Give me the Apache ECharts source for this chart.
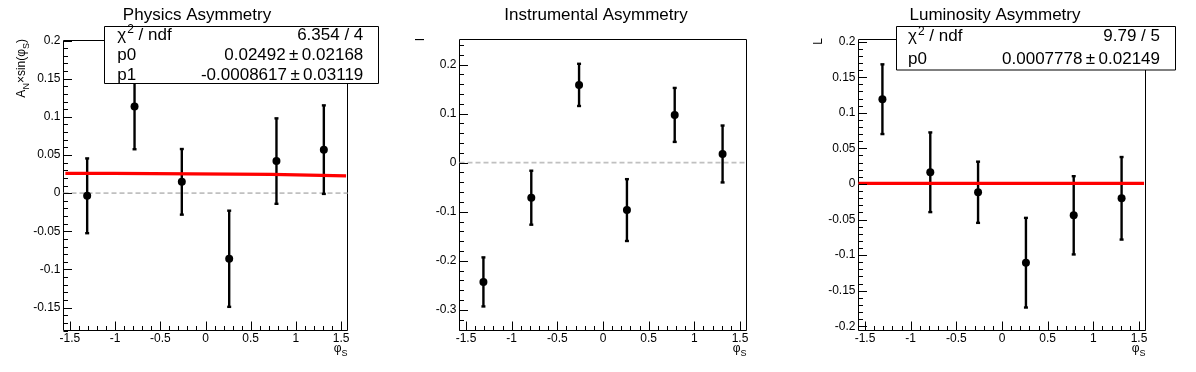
<!DOCTYPE html>
<html><head><meta charset="utf-8">
<script src="https://cdn.jsdelivr.net/npm/echarts@6/dist/echarts.min.js"></script>
<style>html,body{margin:0;padding:0;background:#fff}#c{width:1196px;height:372px}</style>
</head><body><div id="c"></div>
<script>
// ---- data ----
const binCenters = [-1.309, -0.785, -0.262, 0.262, 0.785, 1.309];
const physValues = [-0.0035, 0.1135, 0.0148, -0.086, 0.042, 0.057];
const physErrors = [0.049, 0.056, 0.043, 0.063, 0.056, 0.058];
const instValues = [-0.243, -0.0714, 0.1585, -0.0966, 0.0973, 0.0177];
const instErrors = [0.050, 0.055, 0.043, 0.063, 0.055, 0.058];
const lumiValues = [0.1191, 0.0164, -0.0117, -0.1107, -0.0441, -0.0202];
const lumiErrors = [0.049, 0.056, 0.043, 0.063, 0.055, 0.058];
const physFitX = [-1.55, -1.02, -1.02, 0.73, 0.73, 1.555];
const physFitY = [0.0258, 0.0258, 0.0245, 0.0245, 0.0227, 0.0227];
const lumiFitX = [-1.571, 1.555];
const lumiFitY = [0.0007778, 0.0007778];
const xTicks = [-1.5, -1, -0.5, 0, 0.5, 1, 1.5];
const physYTicks = [-0.15, -0.1, -0.05, 0, 0.05, 0.1, 0.15, 0.2];
const instYTicks = [-0.3, -0.2, -0.1, 0, 0.1, 0.2];
const lumiYTicks = [-0.2, -0.15, -0.1, -0.05, 0, 0.05, 0.1, 0.15, 0.2];
const titles = ['Physics Asymmetry', 'Instrumental Asymmetry', 'Luminosity Asymmetry'];
const physStats = [['chi', '6.354 / 4'], ['p0', '0.02492\u2009±\u20090.02168'], ['p1', '-0.0008617\u2009±\u20090.03119']];
const lumiStats = [['chi', '9.79 / 5'], ['p0', '0.0007778\u2009±\u20090.02149']];

// ---- layout ----
const FONT = 'Liberation Sans, Arial, sans-serif';
const XMIN = -1.5708, XMAX = 1.5708;
const panels = [
  {l: 63.5, r: 347.5, t: 40.5, b: 330.5, ymin: -0.18, ymax: 0.2, ystep: 0.01, yt: physYTicks,
   vals: physValues, errs: physErrors, fitX: physFitX, fitY: physFitY, titleX: 197, yTitleX: 22},
  {l: 459.5, r: 746.5, t: 39.5, b: 330.5, ymin: -0.342, ymax: 0.251, ystep: 0.02, yt: instYTicks,
   vals: instValues, errs: instErrors, fitX: null, fitY: null, titleX: 596, yTitleX: 421},
  {l: 858.5, r: 1145.5, t: 39.5, b: 330.5, ymin: -0.206, ymax: 0.203, ystep: 0.01, yt: lumiYTicks,
   vals: lumiValues, errs: lumiErrors, fitX: lumiFitX, fitY: lumiFitY, titleX: 995, yTitleX: 819}
];
function minors(a, b, s) {
  const out = [];
  for (let k = Math.ceil(a / s - 1e-9); k * s <= b + 1e-9; k++) out.push(Math.round(k * s * 1e6) / 1e6);
  return out;
}
const isMajor = (list, v) => list.some(t => Math.abs(t - v) < 1e-6);
const grid = [], xAxis = [], yAxis = [], series = [], graphic = [];
panels.forEach((p, i) => {
  grid.push({left: p.l, top: p.t, width: p.r - p.l, height: p.b - p.t, show: true,
    borderColor: '#000', borderWidth: 1, backgroundColor: 'transparent'});
  const labelStyle = {fontSize: 12, color: '#000', fontFamily: FONT};
  const noLine = {show: false, onZero: false};
  xAxis.push({type: 'value', gridIndex: i, min: XMIN, max: XMAX, position: 'bottom',
    axisLine: noLine, splitLine: {show: false}, axisTick: {show: false},
    axisLabel: Object.assign({customValues: xTicks, margin: 2, formatter: v => String(v)}, labelStyle)});
  yAxis.push({type: 'value', gridIndex: i, min: p.ymin, max: p.ymax, position: 'left',
    axisLine: noLine, splitLine: {show: false}, axisTick: {show: false},
    axisLabel: Object.assign({customValues: p.yt, margin: 3, formatter: v => String(v)}, labelStyle)});
  const xi = i, yi = i;
  series.push({type: 'line', xAxisIndex: xi, yAxisIndex: yi, data: [[XMIN, 0], [XMAX, 0]], symbol: 'none',
    silent: true, lineStyle: {color: '#c0c0c0', width: 1.6, type: [5, 3]}, z: 1});
  const pts = binCenters.map((x, k) => [x, p.vals[k], p.errs[k]]);
  series.push({type: 'custom', xAxisIndex: xi, yAxisIndex: yi, data: pts, encode: {x: 0, y: 1}, z: 2,
    renderItem(params, api) {
      const x = api.value(0), y = api.value(1), e = api.value(2);
      const t = api.coord([x, y + e]), b = api.coord([x, y - e]);
      const st = {stroke: '#000', lineWidth: 2.4};
      const cw = 2;
      return {type: 'group', children: [
        {type: 'line', shape: {x1: t[0], y1: t[1], x2: b[0], y2: b[1]}, style: st},
        {type: 'line', shape: {x1: t[0] - cw, y1: t[1], x2: t[0] + cw, y2: t[1]}, style: st},
        {type: 'line', shape: {x1: b[0] - cw, y1: b[1], x2: b[0] + cw, y2: b[1]}, style: st}
      ]};
    }});
  series.push({type: 'scatter', xAxisIndex: xi, yAxisIndex: yi, data: pts.map(d => [d[0], d[1]]),
    symbol: 'circle', symbolSize: 8, itemStyle: {color: '#000', opacity: 1}, z: 3});
  if (p.fitX) {
    series.push({type: 'line', xAxisIndex: xi, yAxisIndex: yi, data: p.fitX.map((x, k) => [x, p.fitY[k]]),
      symbol: 'none', lineStyle: {color: '#ff0000', width: 3.2}, z: 4});
  }
  graphic.push({type: 'text', x: p.titleX, y: 15, z: 10,
    style: {text: titles[i], fontSize: 17, fontFamily: FONT, fill: '#000', align: 'center', verticalAlign: 'middle'}});
  graphic.push({type: 'text', x: p.r, y: 349, z: 10,
    style: {text: '{m|φ}{s|S}', align: 'right', verticalAlign: 'middle', fill: '#000',
      rich: {m: {fontSize: 12, fontFamily: FONT, fill: '#000', padding: [0, 0, 0, 0]},
             s: {fontSize: 9, fontFamily: FONT, fill: '#000', padding: [10, 0, 0, 0]}}}});
});
// y axis titles
graphic.push({type: 'text', x: panels[0].yTitleX, y: 39, rotation: Math.PI / 2, z: 10,
  style: {text: '{m|A}{s|N}{m|×sin(φ}{s|S}{m|)}', align: 'right', verticalAlign: 'middle', fill: '#000',
    rich: {m: {fontSize: 12, fontFamily: FONT, fill: '#000'},
           s: {fontSize: 9, fontFamily: FONT, fill: '#000', padding: [10, 0, 0, 0]}}}});
graphic.push({type: 'text', x: panels[1].yTitleX, y: 38, rotation: Math.PI / 2, z: 10,
  style: {text: 'I', fontSize: 12, fontFamily: FONT, fill: '#000', align: 'right', verticalAlign: 'middle'}});
graphic.push({type: 'text', x: panels[2].yTitleX, y: 38, rotation: Math.PI / 2, z: 10,
  style: {text: 'L', fontSize: 12, fontFamily: FONT, fill: '#000', align: 'right', verticalAlign: 'middle'}});
// stats boxes
function statsBox(bx, by, bw, bh, tx, vx, rows, ys) {
  graphic.push({type: 'rect', shape: {x: bx, y: by, width: bw, height: bh}, z: 20,
    style: {fill: '#fff', stroke: '#000', lineWidth: 1}});
  rows.forEach((r, k) => {
    const label = r[0] === 'chi' ? '{m|χ}{u|2}{m| / ndf}' : '{m|' + r[0] + '}';
    graphic.push({type: 'text', x: tx, y: ys[k], z: 21,
      style: {text: label, align: 'left', verticalAlign: 'middle', fill: '#000',
        rich: {m: {fontSize: 17, fontFamily: FONT, fill: '#000'},
               u: {fontSize: 12, fontFamily: FONT, fill: '#000', padding: [0, 0, 10, 1]}}}});
    graphic.push({type: 'text', x: vx, y: ys[k], z: 21,
      style: {text: r[1], fontSize: 17, fontFamily: FONT, fill: '#000', align: 'right', verticalAlign: 'middle'}});
  });
}
statsBox(104.5, 26.5, 274, 57, 117.3, 363.3, physStats, [35, 55.3, 75]);
statsBox(896.5, 26.5, 279, 43.5, 908, 1160, lumiStats, [36.5, 59]);

const chart = echarts.init(document.getElementById('c'), null, {renderer: 'canvas'});
chart.setOption({animation: false, backgroundColor: '#fff', grid, xAxis, yAxis, series, graphic});

// ROOT-style inner tick marks, positioned through the axis scales
const tickEls = [];
panels.forEach((p, i) => {
  minors(-1.5, 1.5, 0.1).forEach(v => {
    const c = chart.convertToPixel({xAxisIndex: i, yAxisIndex: i}, [v, p.ymin]);
    const len = isMajor(xTicks, v) ? 9 : 4.5;
    const x = Math.round(c[0]) + 0.5;
    tickEls.push({type: 'line', z: 5, silent: true, shape: {x1: x, y1: c[1], x2: x, y2: c[1] - len},
      style: {stroke: '#000', lineWidth: 1}});
  });
  minors(p.ymin, p.ymax, p.ystep).forEach(v => {
    const c = chart.convertToPixel({xAxisIndex: i, yAxisIndex: i}, [XMIN, v]);
    const len = isMajor(p.yt, v) ? 8.5 : 4.5;
    const y = Math.round(c[1]) + 0.5;
    tickEls.push({type: 'line', z: 5, silent: true, shape: {x1: c[0], y1: y, x2: c[0] + len, y2: y},
      style: {stroke: '#000', lineWidth: 1}});
  });
});
chart.setOption({graphic: graphic.concat(tickEls)});
</script></body></html>
